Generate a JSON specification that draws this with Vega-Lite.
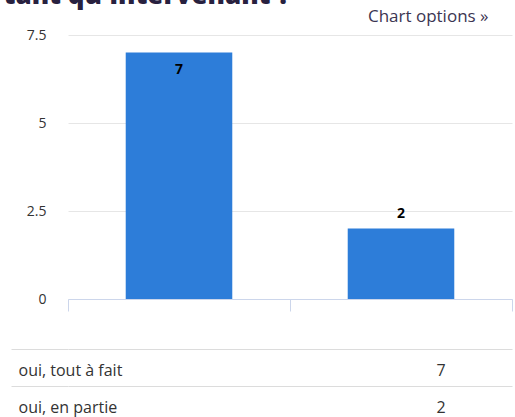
{
  "$schema": "https://vega.github.io/schema/vega-lite/v6.json",
  "padding": {"left": 3, "top": -17, "right": 4, "bottom": -5},
  "autosize": {"type": "pad"},
  "background": "white",
  "title": {"text": "tant qu'intervenant ?", "anchor": "start", "frame": "bounds", "font": "Open Sans", "fontSize": 26, "fontWeight": 800, "color": "#28213f", "offset": -1, "dx": -7},
  "spacing": 29,
  "config": {
    "view": {"stroke": null},
    "font": "Open Sans"
  },
  "datasets": {
    "responses": [
      {"answer": "oui, tout à fait", "count": 7},
      {"answer": "oui, en partie", "count": 2}
    ]
  },
  "vconcat": [
    {
      "width": 444,
      "height": 264,
      "title": {"text": "Chart options »", "anchor": "end", "font": "Open Sans", "fontSize": 17, "fontWeight": "normal", "color": "#3b3552", "dx": -24, "offset": 2},
      "data": {"name": "responses"},
      "encoding": {
        "x": {"field": "answer", "type": "nominal", "sort": null,
          "scale": {"paddingInner": 0, "paddingOuter": 0},
          "axis": {"title": null, "labels": false, "grid": false, "domainColor": "#ccd6eb", "tickColor": "#ccd6eb", "tickSize": 12, "tickBand": "extent"}},
        "y": {"field": "count", "type": "quantitative",
          "scale": {"domain": [0, 7.5], "nice": false},
          "axis": {"title": null, "values": [0, 2.5, 5, 7.5], "format": ".2~g", "domain": false, "ticks": false, "labelPadding": 22, "gridColor": "#e6e6e6", "labelFont": "Open Sans", "labelFontSize": 14, "labelColor": "#333333"}}
      },
      "layer": [
        {"mark": {"type": "bar", "color": "#2d7dd9", "width": {"band": 0.48}}},
        {"transform": [{"filter": "datum.count < 6.5"}],
         "mark": {"type": "text", "font": "Open Sans", "fontWeight": "bold", "fontSize": 14, "color": "#000000", "baseline": "middle", "dy": -15},
         "encoding": {"text": {"field": "count", "type": "quantitative"}}},
        {"transform": [{"filter": "datum.count >= 6.5"}],
         "mark": {"type": "text", "font": "Open Sans", "fontWeight": "bold", "fontSize": 14, "color": "#000000", "baseline": "middle", "dy": 17},
         "encoding": {"text": {"field": "count", "type": "quantitative"}}}
      ]
    },
    {
      "width": 444,
      "height": 74,
      "data": {"name": "responses"},
      "mark": {"type": "text", "font": "Open Sans", "fontSize": 16, "color": "#333333", "baseline": "middle", "dx": 40, "dy": 3},
      "encoding": {
        "y": {"field": "answer", "type": "nominal", "sort": null,
          "scale": {"paddingInner": 0, "paddingOuter": 0},
          "axis": {"orient": "left", "title": null, "domain": false, "tickBand": "extent", "tickSize": 57, "tickColor": "#dcdcdc", "grid": true, "gridColor": "#dcdcdc", "labelAlign": "left", "labelPadding": -7, "labelOffset": 3, "labelFont": "Open Sans", "labelFontSize": 16, "labelColor": "#333333"}},
        "x": {"datum": "Nombre", "type": "nominal",
          "scale": {"domain": ["Réponse", "Nombre"], "paddingInner": 0, "paddingOuter": 0},
          "axis": null},
        "text": {"field": "count", "type": "quantitative"}
      }
    }
  ]
}
